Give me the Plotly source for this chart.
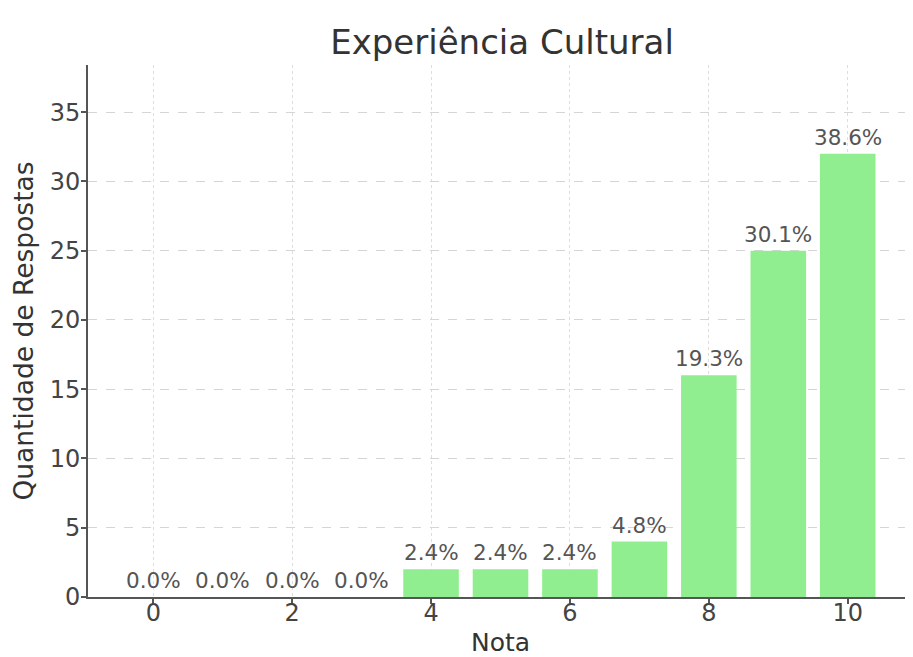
import plotly.graph_objects as go

notas = [0, 1, 2, 3, 4, 5, 6, 7, 8, 9, 10]
respostas = [0, 0, 0, 0, 2, 2, 2, 4, 16, 25, 32]
total = sum(respostas)
labels = [f"{v / total * 100:.1f}%" for v in respostas]

fig = go.Figure()
fig.add_trace(go.Bar(
    x=notas, y=respostas, width=0.8,
    marker=dict(color="#90EE90", line=dict(width=0)),
    cliponaxis=False,
))
for xv, yv, lb in zip(notas, respostas, labels):
    fig.add_annotation(
        x=xv, y=yv, text=lb, showarrow=False, yanchor="bottom", yshift=2,
        font=dict(family="DejaVu Sans", size=21.5, color="#555555"),
    )

fig.update_layout(
    width=905, height=649,
    margin=dict(l=80, r=0, t=57, b=60),
    paper_bgcolor="white", plot_bgcolor="white",
    showlegend=False,
    font=dict(family="DejaVu Sans", color="#333333"),
    title=dict(text="Experiência Cultural", x=494 / 905, xanchor="center",
               y=1 - 34 / 649, yanchor="middle",
               font=dict(size=34, color="#333333"), automargin=False),
)
fig.update_xaxes(
    range=[-0.94, 10.94], tickmode="array", tickvals=[0, 2, 4, 6, 8, 10],
    ticks="outside", ticklen=5, tickcolor="#555555", tickwidth=1.5,
    ticklabelstandoff=-12,
    showline=True, linecolor="#555555", linewidth=2,
    showgrid=True, gridcolor="#dddddd", griddash="dot", gridwidth=1,
    tickfont=dict(size=24, color="#444444"),
    title=dict(text="Nota", font=dict(size=25, color="#333333"), standoff=19),
    layer="above traces", zeroline=False, automargin=False,
)
fig.update_yaxes(
    range=[0, 38.4], tickmode="array", tickvals=[0, 5, 10, 15, 20, 25, 30, 35],
    ticks="outside", ticklen=5, tickcolor="#555555", tickwidth=1.5,
    ticklabelstandoff=-4,
    showline=True, linecolor="#555555", linewidth=2,
    showgrid=True, gridcolor="#d5d5d5", griddash="dash", gridwidth=1,
    tickfont=dict(size=24, color="#444444"),
    title=dict(text="Quantidade de Respostas", font=dict(size=26.5, color="#333333"), standoff=8),
    layer="above traces", zeroline=False, automargin=False,
)

fig.write_html("out.html")
